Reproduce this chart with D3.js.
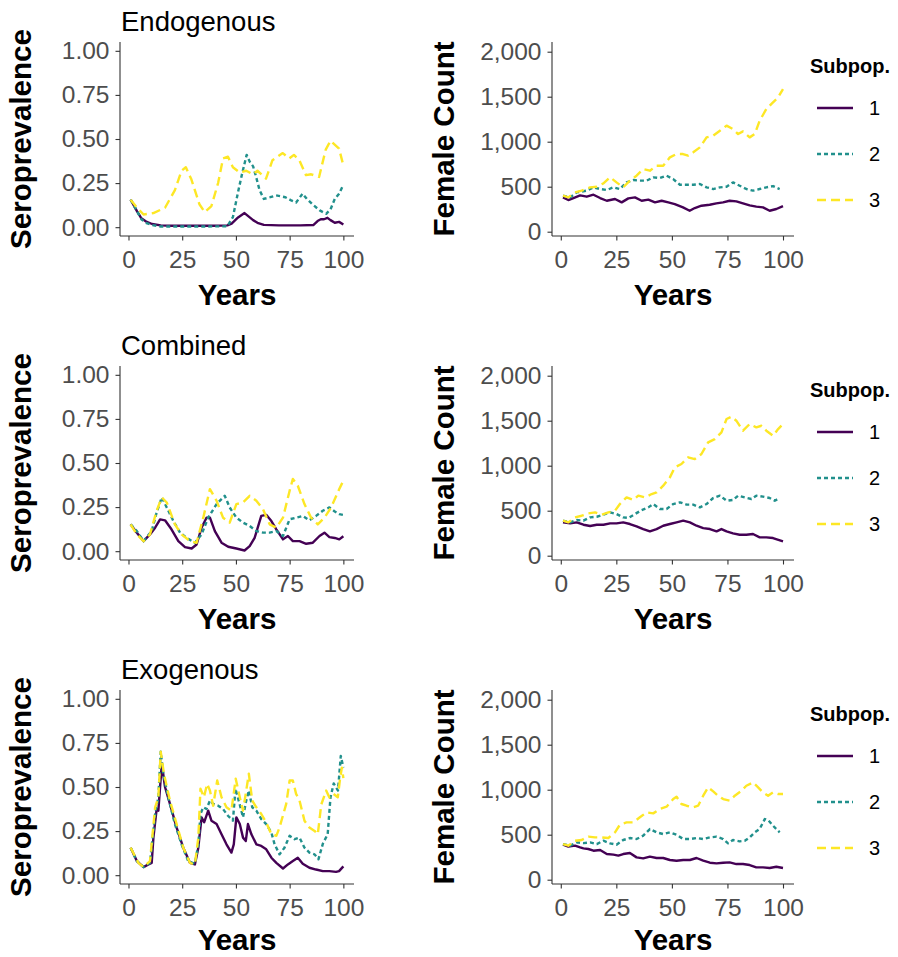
<!DOCTYPE html>
<html><head><meta charset="utf-8">
<script src="https://cdn.jsdelivr.net/npm/d3@7"></script>
<style>body{margin:0;background:#fff} text{font-family:"Liberation Sans",Arial,Helvetica,sans-serif}</style>
</head><body><svg id="c" width="898" height="957"></svg>
<script>
// ---------- data ([year, value]) ----------
const panelTitles = ["Endogenous", "Combined", "Exogenous"];
const subpopLabels = ["1", "2", "3"];
const xTicks = [0, 25, 50, 75, 100];
const seroTicks = [0, 0.25, 0.5, 0.75, 1];
const countTicks = [0, 500, 1000, 1500, 2000];

const endoSero1 = [[1,0.156],[4,0.09],[6,0.05],[8.5,0.03],[11,0.018],[15,0.01],[20,0.008],[30,0.008],[40,0.008],[46,0.01],[48,0.02],[51,0.055],[54,0.08],[56,0.06],[58,0.04],[60,0.025],[63,0.013],[70,0.01],[80,0.01],[86,0.012],[88,0.035],[89.5,0.045],[91,0.045],[92.6,0.053],[94,0.04],[96,0.025],[98,0.03],[100,0.015]];
const endoSero2 = [[1,0.156],[4,0.09],[6,0.045],[8,0.025],[11,0.012],[15,0.004],[25,0.004],[35,0.004],[46,0.005],[48.6,0.057],[51,0.2],[53,0.31],[55,0.41],[56.5,0.37],[58,0.345],[59.4,0.285],[61,0.21],[63,0.16],[66,0.17],[68.7,0.18],[71,0.175],[73,0.17],[76,0.15],[78,0.14],[81,0.19],[83,0.16],[85.6,0.13],[89,0.095],[92,0.076],[94,0.1],[96,0.16],[98,0.19],[100,0.24]];
const endoSero3 = [[1,0.156],[4,0.11],[7,0.072],[11.6,0.08],[17,0.11],[21.6,0.21],[24.7,0.32],[26.7,0.34],[29.3,0.27],[33,0.13],[35.5,0.085],[38.6,0.12],[41.7,0.25],[44,0.39],[46.3,0.4],[48.6,0.34],[51.7,0.31],[54.8,0.32],[57.9,0.3],[60,0.32],[64,0.275],[67,0.38],[71.8,0.42],[74.8,0.39],[77,0.41],[79.5,0.38],[82.6,0.295],[85,0.3],[88.7,0.285],[91.8,0.44],[94,0.49],[98,0.445],[100,0.35]];

const endoCount1 = [[1,381],[3.4,352],[5.7,374],[8.7,404],[11.7,389],[14.7,411],[17.7,374],[20.7,344],[24.4,363],[27.4,326],[30.4,370],[33.4,381],[36.4,344],[39.4,356],[42.4,326],[45.4,344],[48.4,326],[51.3,307],[55,270],[58,233],[60.3,263],[63.3,289],[67,300],[70,315],[73,326],[76,344],[79,337],[82,315],[85,293],[88,278],[91,270],[94,233],[97,252],[100,285]];
const endoCount2 = [[1,400],[4.2,381],[7.2,437],[11.7,456],[14.7,493],[17.7,474],[20.7,463],[23.7,493],[26.6,474],[29.6,548],[32.6,574],[35.6,567],[38.6,567],[41.6,604],[44.6,596],[47.6,622],[50.6,585],[53.6,522],[56.6,522],[59.6,522],[62.6,530],[65.6,493],[68.6,474],[71.6,493],[74.6,500],[77.5,548],[80.5,511],[83.5,474],[86.5,456],[89.5,474],[92.5,493],[95.5,507],[98.5,474]];
const endoCount3 = [[1,400],[3.4,381],[6.4,437],[9.4,456],[13.2,493],[16.2,500],[19.2,537],[22.2,604],[25.1,548],[28.1,493],[31.1,567],[34.1,622],[37.1,696],[40.1,678],[43.1,733],[46.1,733],[49.1,826],[52.1,863],[55,863],[57.3,845],[59.6,882],[62.6,937],[65.6,1048],[68.6,1067],[71.6,1122],[74.6,1178],[77.5,1141],[79.8,1085],[82,1115],[85,1048],[87.3,1085],[89.5,1233],[92.5,1363],[95.5,1437],[97.8,1493],[100,1585]];

const combSero1 = [[1,0.152],[3.9,0.105],[7,0.057],[10,0.095],[12.4,0.133],[14.7,0.18],[17,0.175],[20,0.124],[23.2,0.057],[26.3,0.023],[29.4,0.015],[31.7,0.038],[34,0.133],[36.3,0.19],[37.9,0.19],[40.2,0.114],[43.3,0.048],[46.4,0.025],[50.2,0.015],[54,0.004],[56.4,0.029],[58.7,0.076],[61.8,0.2],[64.1,0.206],[66.5,0.171],[68.8,0.124],[71.9,0.067],[74.2,0.086],[76.5,0.057],[79.6,0.057],[82.7,0.042],[85.8,0.048],[88.9,0.086],[91.2,0.105],[93.5,0.08],[96,0.075],[98.1,0.067],[100,0.085]];
const combSero2 = [[1,0.152],[3.9,0.114],[7,0.057],[10.8,0.114],[13.1,0.219],[15.5,0.305],[17.8,0.248],[20.9,0.171],[24,0.105],[27,0.076],[30.9,0.048],[34,0.095],[37.1,0.19],[41,0.267],[44.8,0.314],[47.1,0.248],[50.2,0.19],[53.3,0.162],[56.4,0.143],[59.5,0.114],[62.6,0.105],[65.7,0.105],[68.8,0.114],[71.9,0.086],[75,0.181],[78,0.19],[81.1,0.2],[84.2,0.175],[87.3,0.2],[90.4,0.229],[93.5,0.248],[96,0.225],[98.1,0.21],[100,0.205]];
const combSero3 = [[1,0.152],[3.9,0.095],[7,0.057],[10,0.095],[13.1,0.229],[15.5,0.305],[17.8,0.276],[21.6,0.152],[24.7,0.095],[28.6,0.057],[31.7,0.048],[34.8,0.19],[37.9,0.352],[41,0.286],[44,0.19],[47.1,0.162],[50.2,0.267],[53.3,0.276],[56.4,0.314],[59.5,0.286],[62.6,0.238],[65.7,0.152],[68.8,0.133],[71.9,0.19],[75,0.343],[76.5,0.41],[78.8,0.371],[81.9,0.267],[85,0.19],[88.1,0.152],[91.2,0.19],[94.3,0.248],[98.1,0.352],[100,0.4]];

const combCount1 = [[1,370],[4.2,359],[7.2,370],[10.2,344],[13.2,330],[16.2,344],[19.2,344],[22.2,359],[25.1,359],[28.1,370],[31.1,352],[34.1,326],[37.1,296],[40.1,270],[43.1,296],[46.1,333],[49.1,352],[52.1,370],[55.1,389],[58.1,370],[61.1,333],[64.1,307],[67.1,296],[70.1,270],[72.3,296],[74.6,270],[77.5,248],[80.5,233],[83.5,233],[86.5,241],[89.5,204],[92.5,204],[95.5,196],[100,159]];
const combCount2 = [[1,389],[4.2,370],[7.2,396],[10.2,389],[13.2,426],[16.2,433],[19.2,456],[22.2,481],[25.1,463],[28.1,426],[30.4,419],[33.4,463],[36.4,507],[39.4,537],[41.6,574],[44.6,519],[47.6,519],[50.6,574],[53.6,593],[56.6,567],[59.6,567],[62.6,537],[65.6,574],[68.6,641],[71.6,667],[74.6,611],[77.5,619],[79.8,667],[82.8,648],[85.8,630],[88,667],[91,656],[94,641],[96.3,611],[98.5,641]];
const combCount3 = [[1,389],[3.4,370],[6.4,426],[9.4,444],[12.4,470],[15.4,481],[18.4,456],[21.4,481],[24.4,500],[26.6,574],[29.6,648],[32.6,619],[34.9,667],[37.9,648],[40.9,685],[43.1,704],[46.1,778],[49.1,870],[51.3,981],[54.3,1019],[57.3,1093],[60.3,1074],[63.3,1130],[66.3,1259],[69.3,1296],[72.3,1370],[74.6,1519],[76.8,1544],[79,1500],[82,1389],[85,1463],[88,1426],[90.3,1444],[92.5,1389],[95.5,1333],[97.8,1407],[100,1463]];

const exoSero1 = [[1,0.156],[3.9,0.08],[7,0.046],[9.3,0.061],[10.8,0.07],[11.6,0.213],[13.1,0.375],[13.9,0.366],[15.5,0.632],[17,0.5],[19.3,0.404],[22.4,0.27],[25.5,0.156],[28.6,0.07],[30.9,0.061],[32.5,0.156],[34,0.328],[35.2,0.3],[37.1,0.366],[38.6,0.309],[41,0.29],[43.3,0.232],[45.6,0.175],[47.9,0.128],[49,0.175],[50.2,0.328],[51.8,0.29],[53.3,0.213],[54.6,0.194],[55.6,0.29],[57.2,0.232],[59.5,0.175],[61.8,0.166],[64.1,0.147],[66.5,0.099],[68.8,0.07],[71.9,0.038],[74.2,0.061],[76.5,0.08],[78.8,0.099],[81.1,0.065],[84.2,0.042],[87.3,0.032],[90.4,0.023],[93.5,0.023],[96.6,0.019],[98,0.023],[100,0.05]];
const exoSero2 = [[1,0.156],[3.9,0.08],[7,0.046],[10,0.07],[12.4,0.347],[13.9,0.442],[15,0.7],[16.2,0.575],[18.5,0.442],[21.6,0.29],[24.7,0.175],[27.8,0.08],[30.9,0.065],[32.5,0.175],[33.5,0.347],[34.8,0.385],[36.3,0.375],[37.9,0.423],[39.4,0.404],[41.7,0.394],[44,0.375],[46.3,0.337],[48.6,0.309],[49.8,0.49],[51.7,0.404],[53.3,0.328],[54.8,0.423],[56,0.48],[57.6,0.385],[59.5,0.366],[61.8,0.318],[64.1,0.29],[66.5,0.242],[68,0.175],[70.3,0.118],[72.6,0.156],[75,0.223],[77.3,0.204],[79.6,0.213],[81.9,0.156],[84.2,0.128],[86.6,0.118],[88.4,0.09],[90.5,0.18],[92.7,0.232],[94,0.44],[95.5,0.52],[97.5,0.48],[98.8,0.676],[100,0.61]];
const exoSero3 = [[1,0.156],[4.6,0.07],[7,0.046],[10,0.08],[12.4,0.385],[13.9,0.44],[15,0.7],[16.5,0.575],[19.3,0.423],[22.4,0.29],[25.5,0.156],[28.6,0.07],[30.9,0.061],[32.5,0.213],[33.5,0.49],[35.1,0.442],[36.6,0.518],[37.9,0.48],[39.4,0.394],[41.3,0.537],[43.3,0.442],[45.6,0.385],[47.9,0.366],[49.9,0.547],[51.8,0.442],[53.3,0.366],[54.8,0.48],[56,0.575],[57.6,0.423],[59.5,0.385],[61.8,0.347],[64.1,0.299],[66.5,0.232],[68.8,0.223],[70.3,0.27],[73.4,0.404],[75,0.537],[76.5,0.537],[78,0.461],[79.6,0.423],[81.9,0.309],[84.2,0.27],[86.6,0.251],[88.1,0.232],[89.7,0.4],[92,0.48],[93.5,0.44],[95.4,0.461],[97.4,0.442],[98.5,0.55],[99.3,0.61],[100,0.55]];

const exoCount1 = [[1,389],[3.4,367],[6.4,378],[8.7,359],[10.2,348],[12.4,341],[14.7,322],[17.7,330],[20.7,285],[23.7,278],[25.9,267],[28.1,285],[31.1,296],[34.1,248],[37.1,237],[40.1,256],[43.1,241],[46.1,241],[49.1,219],[52.1,211],[55.1,219],[58.1,219],[61.1,241],[64.1,211],[67.1,189],[70.1,181],[73.1,189],[76,193],[79,174],[82,174],[85,163],[88,137],[91,137],[94,130],[97,144],[100,130]];
const exoCount2 = [[1,396],[4.2,378],[7.2,415],[10.2,407],[13.2,415],[16.2,396],[19.2,433],[22.2,404],[25.1,389],[28.1,441],[31.1,463],[34.1,452],[37.1,489],[40.1,563],[43.1,526],[46.1,507],[49.1,526],[52.1,500],[55.1,452],[58.1,452],[61.1,463],[64.1,452],[67.1,470],[70.1,478],[73.1,452],[75.3,404],[77.5,441],[80.5,426],[82.8,433],[85,470],[87.3,526],[89.5,563],[91.8,674],[93.3,663],[95.5,600],[98.5,526]];
const exoCount3 = [[1,396],[3.4,378],[6.4,433],[9.4,441],[12.4,478],[15.4,470],[18.4,470],[21.4,463],[24.4,526],[26.6,611],[29.6,637],[32.6,637],[35.6,693],[38.6,748],[41.6,737],[44.6,785],[47.6,811],[50.6,896],[52.1,922],[54.3,841],[56.6,822],[59.6,804],[61.8,822],[64.1,933],[66.3,1026],[68.6,981],[70.8,933],[73.1,896],[76,878],[78.3,933],[81.3,989],[83.5,1044],[86.5,1081],[88.8,1026],[91,970],[93.3,933],[95.5,970],[97.8,952],[100,952]];

// ---------- styles ----------
const colors = ["#440154", "#21908C", "#FDE725"];
const dashes = [null, "4,3", "9,5"];

const rows = [
  {title: panelTitles[0], sero: [endoSero1, endoSero2, endoSero3], count: [endoCount1, endoCount2, endoCount3]},
  {title: panelTitles[1], sero: [combSero1, combSero2, combSero3], count: [combCount1, combCount2, combCount3]},
  {title: panelTitles[2], sero: [exoSero1, exoSero2, exoSero3], count: [exoCount1, exoCount2, exoCount3]}
];

const svg = d3.select("#c");
const rowStep = 324;
const axisCol = "#333333", tickCol = "#4D4D4D";

function drawPanel(g, opt) {
  const {x0, x1, top, bottom, yScale, ticks, fmt, series, ylab, ylabX, yearsY} = opt;
  const x = d3.scaleLinear().domain([-3.95, 104.95]).range([x0, x1]);
  const ax = g.append("g").attr("transform", `translate(0,${bottom})`)
    .call(d3.axisBottom(x).tickValues(xTicks).tickSize(4.5).tickPadding(5).tickFormat(d3.format("d")));
  ax.select(".domain").remove();
  g.append("line").attr("x1", x0).attr("x2", x1).attr("y1", bottom).attr("y2", bottom)
    .attr("stroke", axisCol).attr("stroke-width", 1.1);
  const ay = g.append("g").attr("transform", `translate(${x0},0)`)
    .call(d3.axisLeft(yScale).tickValues(ticks).tickSize(4.5).tickPadding(6).tickFormat(fmt));
  ay.select(".domain").remove();
  g.append("line").attr("x1", x0).attr("x2", x0).attr("y1", top).attr("y2", bottom)
    .attr("stroke", axisCol).attr("stroke-width", 1.1);
  [ax, ay].forEach(a => {
    a.selectAll(".tick line").attr("stroke", axisCol).attr("stroke-width", 1.1);
    a.selectAll(".tick text").attr("fill", tickCol).attr("font-size", 24.5)
      .attr("font-family", '"Liberation Sans",Arial,sans-serif');
  });
  ax.selectAll(".tick text").attr("dy", "0.9em");
  const line = d3.line().x(d => x(d[0])).y(d => yScale(d[1]));
  series.forEach((s, i) => {
    g.append("path").datum(s).attr("d", line).attr("fill", "none")
      .attr("stroke", colors[i]).attr("stroke-width", 2.4)
      .attr("stroke-linejoin", "round")
      .attr("stroke-dasharray", dashes[i]);
  });
  g.append("text").attr("x", (x0 + x1) / 2).attr("y", yearsY).attr("text-anchor", "middle")
    .attr("font-size", 29.5).attr("font-weight", "bold").attr("fill", "#000").text("Years");
  g.append("text").attr("transform", `translate(${ylabX},${(top + bottom) / 2}) rotate(-90)`)
    .attr("text-anchor", "middle").attr("font-size", 29.5).attr("font-weight", "bold")
    .attr("fill", "#000").text(ylab);
}

rows.forEach((r, ri) => {
  const dy = ri * rowStep;
  const g = svg.append("g").attr("transform", `translate(0,${dy})`);
  const top = 42, bottom = 236;
  const yearsY = Math.min(bottom + 69, 950 - dy);
  const yl = d3.scaleLinear().domain([-0.05, 1.05]).range([bottom, top]);
  drawPanel(g, {x0: 120, x1: 354, top, bottom, yScale: yl, ticks: seroTicks,
    fmt: d3.format(".2f"), series: r.sero, ylab: "Seroprevalence", ylabX: 31, yearsY});
  const yr = d3.scaleLinear().domain([0, 2000]).range([231.7, 51.7]);
  drawPanel(g, {x0: 552, x1: 794, top, bottom, yScale: yr, ticks: countTicks,
    fmt: d3.format(","), series: r.count, ylab: "Female Count", ylabX: 454, yearsY});
  g.append("text").attr("x", 121).attr("y", 31).attr("font-size", 27.5).attr("fill", "#000").text(r.title);
  const lg = g.append("g");
  lg.append("text").attr("x", 810).attr("y", 73).attr("font-size", 20).attr("font-weight", "bold")
    .attr("fill", "#000").text("Subpop.");
  subpopLabels.forEach((lab, i) => {
    const ly = 108 + i * 46;
    lg.append("line").attr("x1", 817).attr("x2", 853).attr("y1", ly).attr("y2", ly)
      .attr("stroke", colors[i]).attr("stroke-width", 2.4).attr("stroke-dasharray", dashes[i]);
    lg.append("text").attr("x", 869).attr("y", ly).attr("dy", "0.35em").attr("font-size", 20)
      .attr("fill", "#000").text(lab);
  });
});
</script></body></html>
